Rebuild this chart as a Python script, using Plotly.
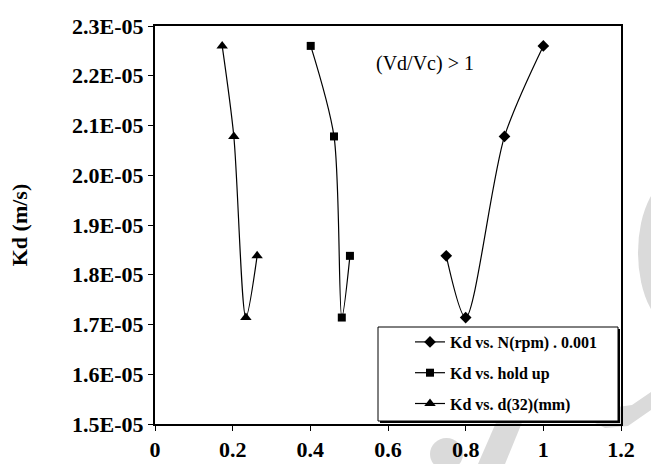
import plotly.graph_objects as go

# Mass-transfer coefficient Kd (m/s) against the three operating variables
kd = [2.26e-05, 2.078e-05, 1.714e-05, 1.838e-05]

n_rpm_scaled = [1.00, 0.90, 0.80, 0.75]
kd_n = [2.26e-05, 2.078e-05, 1.714e-05, 1.838e-05]

hold_up = [0.401, 0.461, 0.481, 0.502]
d32_mm = [0.173, 0.203, 0.234, 0.263]

y_ticks = [1.5e-05, 1.6e-05, 1.7e-05, 1.8e-05, 1.9e-05, 2.0e-05, 2.1e-05, 2.2e-05, 2.3e-05]
y_tick_text = ["1.5E-05", "1.6E-05", "1.7E-05", "1.8E-05", "1.9E-05",
               "2.0E-05", "2.1E-05", "2.2E-05", "2.3E-05"]
x_ticks = [0, 0.2, 0.4, 0.6, 0.8, 1.0, 1.2]
x_tick_text = ["0", "0.2", "0.4", "0.6", "0.8", "1", "1.2"]

serif = "Liberation Serif, Times New Roman, serif"

W, H = 651, 464
M_L, M_R, M_T, M_B = 155, 30, 26, 40
PW, PH = W - M_L - M_R, H - M_T - M_B


def px(xp):
    """Pixel column -> paper x."""
    return (xp - M_L) / PW


def py(yp):
    """Pixel row -> paper y."""
    return (H - M_B - yp) / PH


fig = go.Figure()

series = [
    ("Kd vs. N(rpm) . 0.001", n_rpm_scaled, kd_n, "diamond", 9),
    ("Kd vs. hold up", hold_up, kd, "square", 8),
    ("Kd vs. d(32)(mm)", d32_mm, kd, "triangle-up", 10),
]
for i, (name, xs, ys, sym, size) in enumerate(series):
    fig.add_trace(go.Scatter(
        x=xs, y=ys, name=name, mode="lines+markers",
        line=dict(color="black", width=1.2, shape="spline", smoothing=0.8),
        marker=dict(symbol=sym, size=size, color="black"),
        legendgroup=f"g{i}",
    ))

fig.add_annotation(
    x=0.695, y=2.2256e-05, text="(Vd/Vc) > 1", showarrow=False,
    font=dict(family=serif, size=20, color="black"),
)

# Faint grey publisher logo in the lower-right corner
logo = "#dadada"


def path(points):
    return "M " + " L ".join(f"{px(a):.4f},{py(b):.4f}" for a, b in points) + " Z"


shapes = [
    # crescent on the right edge
    dict(type="circle", xref="paper", yref="paper",
         x0=px(638), x1=px(720), y0=py(330), y1=py(175),
         fillcolor=logo, line=dict(width=0), layer="below"),
    # diagonal stroke
    dict(type="path", xref="paper", yref="paper",
         path=path([(508, 395), (532, 398), (505, 464), (478, 464)]),
         fillcolor=logo, line=dict(width=0), layer="below"),
    # round dot
    dict(type="circle", xref="paper", yref="paper",
         x0=px(430), x1=px(463), y0=py(470), y1=py(438),
         fillcolor=logo, line=dict(width=0), layer="below"),
    # curved band under the right end of the axis
    dict(type="path", xref="paper", yref="paper",
         path=path([(568, 400), (585, 418), (605, 428), (628, 426), (651, 410),
                    (651, 392), (632, 405), (610, 408), (590, 402), (578, 392)]),
         fillcolor=logo, line=dict(width=0), layer="below"),
    # legend frame with a thin drop shadow
    dict(type="rect", xref="paper", yref="paper",
         x0=px(380), x1=px(620), y0=py(423), y1=py(329),
         fillcolor="black", line=dict(width=0), layer="above"),
    dict(type="rect", xref="paper", yref="paper",
         x0=px(378), x1=px(618), y0=py(421), y1=py(327),
         fillcolor="white", line=dict(color="black", width=1), layer="above"),
]

fig.update_layout(
    width=W, height=H,
    margin=dict(l=M_L, r=M_R, t=M_T, b=M_B, autoexpand=False),
    paper_bgcolor="white", plot_bgcolor="rgba(0,0,0,0)",
    showlegend=True,
    shapes=shapes,
    legend=dict(
        x=px(410), y=py(325), xanchor="left", yanchor="top",
        borderwidth=0, bgcolor="rgba(0,0,0,0)",
        font=dict(family=serif, size=16, color="black", weight="bold"),
        tracegroupgap=7, itemwidth=30,
    ),
    font=dict(family=serif, color="black"),
)

fig.update_xaxes(
    range=[0, 1.2], tickvals=x_ticks, ticktext=x_tick_text,
    showgrid=False, zeroline=False, automargin=False,
    showline=True, linecolor="black", linewidth=2, mirror=True,
    ticks="outside", ticklen=5, tickwidth=1, tickcolor="black",
    tickfont=dict(family=serif, size=22, color="black", weight="bold"),
)
fig.update_yaxes(
    range=[1.5e-05, 2.3e-05], tickvals=y_ticks, ticktext=y_tick_text,
    showgrid=False, zeroline=False, automargin=False,
    showline=True, linecolor="black", linewidth=2, mirror=True,
    ticks="outside", ticklen=5, tickwidth=1, tickcolor="black",
    tickfont=dict(family=serif, size=22, color="black", weight="bold"),
    title=dict(text="Kd (m/s)", standoff=38,
               font=dict(family=serif, size=22, color="black", weight="bold")),
)

fig.write_html("out.html")
